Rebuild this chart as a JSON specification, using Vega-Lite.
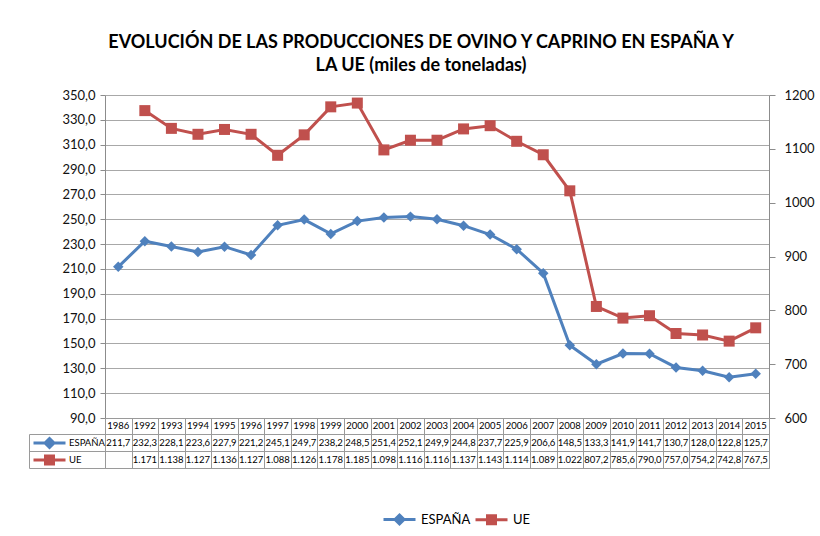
{
  "$schema": "https://vega.github.io/schema/vega-lite/v6.json",
  "padding": {"left": 28, "top": 34, "right": 4, "bottom": 4},
  "background": "white",
  "config": {
    "font": "Lato",
    "locale": {"number": {"decimal": ",", "thousands": ".", "grouping": [3], "currency": ["", " €"]}},
    "axis": {"labelFont": "Lato", "labelColor": "#111111", "domainColor": "#8c8c8c", "tickColor": "#8c8c8c", "gridColor": "#a8a8a8"},
    "legend": {"labelFont": "Lato", "labelColor": "#000000", "padding": 0}
  },
  "title": {
    "text": ["EVOLUCIÓN DE LAS PRODUCCIONES DE OVINO Y CAPRINO EN ESPAÑA Y", "LA UE (miles de toneladas)"],
    "font": "Lato", "fontSize": 18, "fontWeight": "bold", "color": "#000000", "lineHeight": 23, "offset": 14, "anchor": "middle"
  },
  "datasets": {
    "prod": [
      {"year": 1986, "serie": "ESPAÑA", "valor": 211.7},
      {"year": 1992, "serie": "ESPAÑA", "valor": 232.3},
      {"year": 1993, "serie": "ESPAÑA", "valor": 228.1},
      {"year": 1994, "serie": "ESPAÑA", "valor": 223.6},
      {"year": 1995, "serie": "ESPAÑA", "valor": 227.9},
      {"year": 1996, "serie": "ESPAÑA", "valor": 221.2},
      {"year": 1997, "serie": "ESPAÑA", "valor": 245.1},
      {"year": 1998, "serie": "ESPAÑA", "valor": 249.7},
      {"year": 1999, "serie": "ESPAÑA", "valor": 238.2},
      {"year": 2000, "serie": "ESPAÑA", "valor": 248.5},
      {"year": 2001, "serie": "ESPAÑA", "valor": 251.4},
      {"year": 2002, "serie": "ESPAÑA", "valor": 252.1},
      {"year": 2003, "serie": "ESPAÑA", "valor": 249.9},
      {"year": 2004, "serie": "ESPAÑA", "valor": 244.8},
      {"year": 2005, "serie": "ESPAÑA", "valor": 237.7},
      {"year": 2006, "serie": "ESPAÑA", "valor": 225.9},
      {"year": 2007, "serie": "ESPAÑA", "valor": 206.6},
      {"year": 2008, "serie": "ESPAÑA", "valor": 148.5},
      {"year": 2009, "serie": "ESPAÑA", "valor": 133.3},
      {"year": 2010, "serie": "ESPAÑA", "valor": 141.9},
      {"year": 2011, "serie": "ESPAÑA", "valor": 141.7},
      {"year": 2012, "serie": "ESPAÑA", "valor": 130.7},
      {"year": 2013, "serie": "ESPAÑA", "valor": 128.0},
      {"year": 2014, "serie": "ESPAÑA", "valor": 122.8},
      {"year": 2015, "serie": "ESPAÑA", "valor": 125.7},
      {"year": 1992, "serie": "UE", "valor": 1171},
      {"year": 1993, "serie": "UE", "valor": 1138},
      {"year": 1994, "serie": "UE", "valor": 1127},
      {"year": 1995, "serie": "UE", "valor": 1136},
      {"year": 1996, "serie": "UE", "valor": 1127},
      {"year": 1997, "serie": "UE", "valor": 1088},
      {"year": 1998, "serie": "UE", "valor": 1126},
      {"year": 1999, "serie": "UE", "valor": 1178},
      {"year": 2000, "serie": "UE", "valor": 1185},
      {"year": 2001, "serie": "UE", "valor": 1098},
      {"year": 2002, "serie": "UE", "valor": 1116},
      {"year": 2003, "serie": "UE", "valor": 1116},
      {"year": 2004, "serie": "UE", "valor": 1137},
      {"year": 2005, "serie": "UE", "valor": 1143},
      {"year": 2006, "serie": "UE", "valor": 1114},
      {"year": 2007, "serie": "UE", "valor": 1089},
      {"year": 2008, "serie": "UE", "valor": 1022},
      {"year": 2009, "serie": "UE", "valor": 807.2},
      {"year": 2010, "serie": "UE", "valor": 785.6},
      {"year": 2011, "serie": "UE", "valor": 790.0},
      {"year": 2012, "serie": "UE", "valor": 757.0},
      {"year": 2013, "serie": "UE", "valor": 754.2},
      {"year": 2014, "serie": "UE", "valor": 742.8},
      {"year": 2015, "serie": "UE", "valor": 767.5}
    ]
  },
  "bounds": "flush",
  "spacing": 0,
  "resolve": {"scale": {"x": "independent", "y": "independent", "color": "independent"}, "legend": {"color": "independent"}},
  "vconcat": [
    {
      "width": 664,
      "height": 323,
      "view": {"stroke": null},
      "data": {"name": "prod"},
      "layer": [
        {
          "transform": [{"filter": "datum.serie === 'ESPAÑA'"}],
          "mark": {"type": "line", "strokeWidth": 3, "point": {"shape": "diamond", "size": 110, "filled": true}},
          "encoding": {
            "x": {"field": "year", "type": "ordinal", "scale": {"type": "point", "padding": 0.5}, "axis": null},
            "y": {"field": "valor", "type": "quantitative",
                  "scale": {"domain": [90, 350], "nice": false, "zero": false},
                  "axis": {"orient": "left", "title": null, "values": [90, 110, 130, 150, 170, 190, 210, 230, 250, 270, 290, 310, 330, 350], "format": ".1f", "grid": true, "labelFontSize": 13, "tickSize": 5, "labelPadding": 5}},
            "color": {"field": "serie", "type": "nominal",
                      "scale": {"domain": ["ESPAÑA", "UE"], "range": ["#4F81BD", "#C0504D"]},
                      "legend": {"orient": "none", "legendX": 288, "legendY": 418, "direction": "horizontal", "title": null,
                                 "labelFontSize": 13, "symbolSize": 100, "symbolStrokeWidth": 3, "labelOffset": 15, "columnPadding": -2,
                                 "encode": {"symbols": {"update": {
                                   "shape": {"signal": "datum.value === 'UE' ? 'M-3.2,0H3.2M-0.8,-0.8H0.8V0.8H-0.8Z' : 'M-3.2,0H3.2M0,-0.9L0.9,0L0,0.9L-0.9,0Z'"},
                                   "fill": {"signal": "datum.value === 'UE' ? '#C0504D' : '#4F81BD'"},
                                   "stroke": {"signal": "datum.value === 'UE' ? '#C0504D' : '#4F81BD'"},
                                   "strokeWidth": {"value": 3},
                                   "opacity": {"value": 1}}}}}}
          }
        },
        {
          "transform": [{"filter": "datum.serie === 'UE'"}],
          "mark": {"type": "line", "strokeWidth": 3, "point": {"shape": "square", "size": 121, "filled": true}},
          "encoding": {
            "x": {"field": "year", "type": "ordinal", "scale": {"type": "point", "padding": 0.5}, "axis": null},
            "y": {"field": "valor", "type": "quantitative",
                  "scale": {"domain": [600, 1200], "nice": false, "zero": false},
                  "axis": {"orient": "right", "title": null, "values": [600, 700, 800, 900, 1000, 1100, 1200], "format": "d", "grid": false, "labelFontSize": 13, "tickSize": 6, "labelPadding": 9}},
            "color": {"field": "serie", "type": "nominal"}
          }
        }
      ],
      "resolve": {"scale": {"y": "independent"}}
    },
    {
      "width": 664,
      "height": 16,
      "view": {"stroke": "#9a9a9a"},
      "data": {"name": "prod"},
      "transform": [{"filter": "datum.serie === 'ESPAÑA'"}],
      "mark": {"type": "text", "fontSize": 9.5, "font": "Lato", "color": "#000000", "baseline": "middle", "align": "center"},
      "encoding": {
        "x": {"field": "year", "type": "ordinal",
              "scale": {"type": "band", "paddingInner": 0, "paddingOuter": 0},
              "axis": {"orient": "bottom", "title": null, "labels": false, "ticks": false, "domain": false, "grid": true, "tickBand": "extent", "gridColor": "#9a9a9a"}},
        "text": {"field": "year", "type": "nominal"}
      }
    },
    {
      "width": 664,
      "height": 34,
      "view": {"stroke": "#9a9a9a"},
      "data": {"name": "prod"},
      "layer": [
        {
          "transform": [{"calculate": "datum.valor >= 1000 ? format(datum.valor, ',.0f') : format(datum.valor, '.1f')", "as": "lbl"}],
          "mark": {"type": "text", "fontSize": 9.5, "font": "Lato", "color": "#000000", "baseline": "middle", "align": "center"},
          "encoding": {
            "x": {"field": "year", "type": "ordinal",
                  "scale": {"type": "band", "paddingInner": 0, "paddingOuter": 0},
                  "axis": {"orient": "bottom", "title": null, "labels": false, "ticks": false, "domain": false, "grid": true, "tickBand": "extent", "gridColor": "#9a9a9a"}},
            "y": {"field": "serie", "type": "nominal",
                  "scale": {"type": "band", "domain": ["ESPAÑA", "UE"], "paddingInner": 0, "paddingOuter": 0},
                  "axis": {"orient": "left", "title": null, "labels": false, "domain": false, "ticks": true, "tickBand": "extent", "tickSize": 76,
                           "tickColor": "#9a9a9a", "grid": true, "gridColor": "#9a9a9a"}},
            "text": {"field": "lbl", "type": "nominal"}
          }
        },
        {
          "mark": {"type": "line", "opacity": 0, "strokeWidth": 3, "point": {"opacity": 0, "filled": true}},
          "encoding": {
            "x": {"field": "year", "type": "ordinal"},
            "y": {"field": "serie", "type": "nominal",
                  "axis": {"orient": "left", "title": null, "labels": false, "ticks": false, "grid": false, "domain": true, "offset": 76, "domainColor": "#9a9a9a"}},
            "color": {"field": "serie", "type": "nominal",
                      "scale": {"domain": ["ESPAÑA", "UE"], "range": ["#4F81BD", "#C0504D"]},
                      "legend": {"orient": "none", "legendX": -62, "legendY": 2.5, "direction": "vertical", "title": null,
                                 "labelFontSize": 9.5, "symbolSize": 100, "symbolStrokeWidth": 3, "labelOffset": 13, "rowPadding": -6.3,
                                 "encode": {"symbols": {"update": {
                                   "shape": {"signal": "datum.value === 'UE' ? 'M-3.2,0H3.2M-0.8,-0.8H0.8V0.8H-0.8Z' : 'M-3.2,0H3.2M0,-0.9L0.9,0L0,0.9L-0.9,0Z'"},
                                   "fill": {"signal": "datum.value === 'UE' ? '#C0504D' : '#4F81BD'"},
                                   "stroke": {"signal": "datum.value === 'UE' ? '#C0504D' : '#4F81BD'"},
                                   "strokeWidth": {"value": 3},
                                   "opacity": {"value": 1}}}}}}
          }
        }
      ],
      "resolve": {"axis": {"y": "independent"}}
    }
  ]
}
